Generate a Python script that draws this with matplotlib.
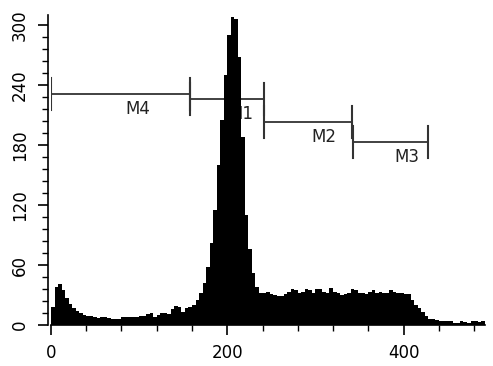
import numpy as np
import matplotlib
matplotlib.use('Agg')
import matplotlib.pyplot as plt
from matplotlib.ticker import MultipleLocator

# Histogram: channel bins of width 4 starting at 0
bin_width = 4
counts = [
    18, 38, 41, 35, 27, 21, 17, 14, 12, 10,      # 0 - 36
    9, 9, 8, 7, 8, 8, 7, 6, 6, 6,                # 40 - 76
    8, 8, 8, 8, 8, 9, 9, 11, 12, 8,              # 80 - 116
    10, 12, 12, 11, 16, 19, 18, 13, 17, 18,      # 120 - 156
    20, 25, 32, 42, 58, 82, 115, 160, 205, 250,  # 160 - 196
    290, 308, 306, 268, 188, 110, 76, 52, 38, 32,  # 200 - 236
    32, 33, 31, 30, 29, 29, 31, 33, 36, 35,      # 240 - 276
    32, 33, 36, 35, 32, 36, 36, 33, 32, 37,      # 280 - 316
    33, 32, 30, 31, 32, 36, 35, 32, 32, 31,      # 320 - 356
    33, 35, 32, 33, 32, 32, 35, 33, 32, 32,      # 360 - 396
    31, 31, 25, 20, 17, 13, 9, 6, 6, 5,          # 400 - 436
    4, 4, 4, 4, 2, 2, 4, 3, 2, 4,                # 440 - 476
    4, 3, 4,                                     # 480 - 488
]
edges = np.arange(len(counts) + 1) * bin_width

# Range markers: name, start, end, level, label position
marker_names = ['M4', 'M1', 'M2', 'M3']
marker_start = [0, 158, 242, 343]
marker_end = [158, 242, 342, 428]
marker_level = [231, 226, 203, 183]
label_x = [99, 216, 310, 404]
label_y = [216, 211, 188, 168]

fig = plt.figure(figsize=(4.93, 3.66), dpi=100)
ax = fig.add_axes([0.1034, 0.112, 0.8796, 0.847])

ax.stairs(counts, edges, fill=True, color='black', zorder=3)

line_col = '#333333'
for name, x0, x1, yl, tx, ty in zip(marker_names, marker_start, marker_end,
                                     marker_level, label_x, label_y):
    ax.plot([x0, x1], [yl, yl], color=line_col, lw=1.3, zorder=2)
    ax.plot([x0, x0], [yl - 16, yl + 16], color=line_col, lw=1.5, zorder=2)
    ax.plot([x1, x1], [yl - 16, yl + 16], color=line_col, lw=1.5, zorder=2)
    ax.text(tx, ty, name, ha='center', va='center', fontsize=12,
            color='#222222', zorder=1)

ax.set_xlim(0, 492)
ax.set_ylim(0, 310)

for side in ['top', 'right']:
    ax.spines[side].set_visible(False)
for side in ['left', 'bottom']:
    ax.spines[side].set_linewidth(1.2)
ax.spines['left'].set_position(('outward', 2))

ax.xaxis.set_major_locator(MultipleLocator(200))
ax.xaxis.set_minor_locator(MultipleLocator(40))
ax.yaxis.set_major_locator(MultipleLocator(60))
ax.yaxis.set_minor_locator(MultipleLocator(12))

ax.tick_params(which='major', length=7, width=1.2, labelsize=12, pad=7)
ax.tick_params(which='minor', length=4.5, width=1.0)
for lab in ax.get_yticklabels():
    lab.set_rotation(90)
    lab.set_va('center')

fig.savefig('out.png', dpi=100)
